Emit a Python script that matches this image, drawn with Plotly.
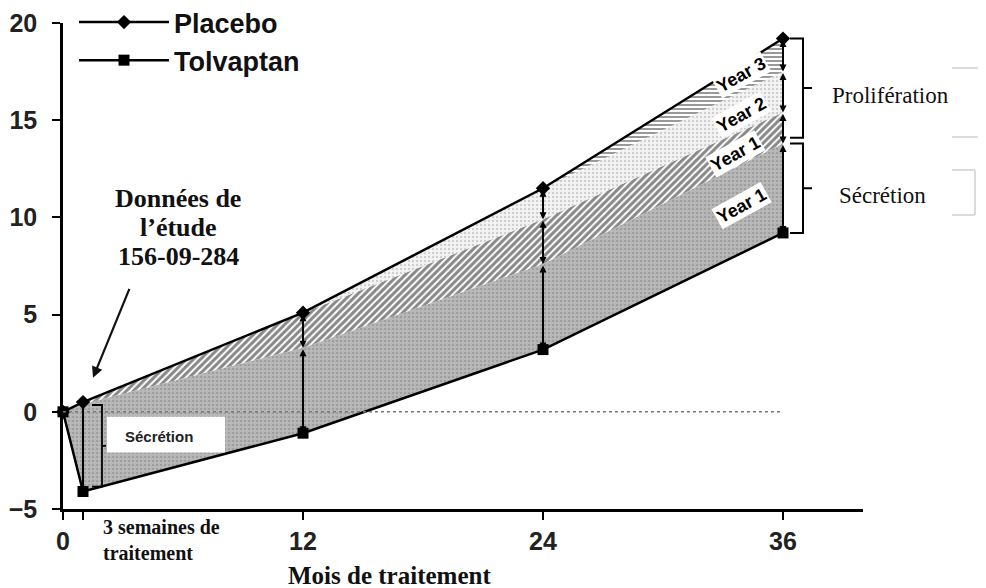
"""Placebo vs Tolvaptan: kidney volume change split into secretion / proliferation bands."""

import plotly.graph_objects as go

# Months of treatment (1 = the 3-week visit)
months = [0, 1, 12, 24, 36]
placebo = [0.0, 0.5, 5.1, 11.5, 19.2]
tolvaptan = [0.0, -4.1, -1.1, 3.2, 9.2]

# Upper edge of each shaded band (the bands stack from tolvaptan up to placebo)
secretion_top = [0.0, 0.4, 3.3, 7.6, 13.8]          # months 0..36
prolif_y1_months = [1, 12, 24, 36]
prolif_y1_top = [0.5, 5.1, 9.9, 15.4]
prolif_y2_months = [12, 24, 36]
prolif_y2_top = [5.1, 11.5, 17.5]
prolif_y3_months = [24, 36]

x_ticks = [0, 1, 12, 24, 36]
x_tick_labels = ["0", "", "12", "24", "36"]
y_ticks = [-5, 0, 5, 10, 15, 20]

band_labels = ["Year 3", "Year 2", "Year 1", "Year 1"]
band_label_pos = [(33.9, 17.3), (33.9, 15.25), (33.6, 13.25), (33.9, 10.6)]

study_lines = ["Données de", "l’étude", "156-09-284"]

SANS = "Liberation Sans, Arial, sans-serif"
SERIF = "Liberation Serif, Times New Roman, serif"

# The page body has an 8px margin, so the figure is shifted by 8px and
# everything below is given in page pixels.
PAGE_OFF = 8
FIG_W, FIG_H = 986 - PAGE_OFF, 588 - PAGE_OFF
L, R, T, B = 63, 863, 23, 509          # plot area on the page


def px(x, y):
    return (x - L) / (R - L), (B - y) / (B - T)


def band(xs, lower, upper):
    """Closed polygon between two curves."""
    return list(xs) + list(xs)[::-1], list(lower) + list(upper)[::-1]


def pick(xs, ys, wanted):
    lookup = dict(zip(xs, ys))
    return [lookup[m] for m in wanted]


fig = go.Figure()

# Secretion (dense grey)
bx, by = band(months, tolvaptan, secretion_top)
fig.add_trace(go.Scatter(
    x=bx, y=by, fill="toself", mode="none", showlegend=False, hoverinfo="skip",
    fillcolor="#b5b5b5",
    fillpattern=dict(shape=".", fgcolor="#858585", bgcolor="#b9b9b9", size=4, solidity=0.35),
))

# Proliferation year 1 (diagonal hatch)
bx, by = band(prolif_y1_months, pick(months, secretion_top, prolif_y1_months), prolif_y1_top)
fig.add_trace(go.Scatter(
    x=bx, y=by, fill="toself", mode="none", showlegend=False, hoverinfo="skip",
    fillcolor="white",
    fillpattern=dict(shape="/", fgcolor="#111111", bgcolor="white", size=5, solidity=0.6),
))

# Proliferation year 2 (light dots)
bx, by = band(prolif_y2_months, pick(prolif_y1_months, prolif_y1_top, prolif_y2_months), prolif_y2_top)
fig.add_trace(go.Scatter(
    x=bx, y=by, fill="toself", mode="none", showlegend=False, hoverinfo="skip",
    fillcolor="#eeeeee",
    fillpattern=dict(shape=".", fgcolor="#aaaaaa", bgcolor="#f4f4f4", size=4, solidity=0.3),
))

# Proliferation year 3 (horizontal hatch)
bx, by = band(prolif_y3_months, pick(prolif_y2_months, prolif_y2_top, prolif_y3_months),
              pick(months, placebo, prolif_y3_months))
fig.add_trace(go.Scatter(
    x=bx, y=by, fill="toself", mode="none", showlegend=False, hoverinfo="skip",
    fillcolor="white",
    fillpattern=dict(shape="-", fgcolor="#333333", bgcolor="white", size=4, solidity=0.5),
))

# Main series
fig.add_trace(go.Scatter(
    x=months, y=placebo, name="Placebo", mode="lines+markers", cliponaxis=False,
    line=dict(color="black", width=2.5),
    marker=dict(symbol="diamond", size=11, color="black"),
    legendgroup="p",
))
fig.add_trace(go.Scatter(
    x=months, y=tolvaptan, name="Tolvaptan", mode="lines+markers", cliponaxis=False,
    line=dict(color="black", width=2.5),
    marker=dict(symbol="square", size=11, color="black"),
    legendgroup="t",
))

shapes = []
annotations = []

# dotted zero line
shapes.append(dict(type="line", xref="x", yref="y", x0=months[0], x1=months[-1], y0=0, y1=0,
                   line=dict(color="#777777", width=1.5, dash="dot"), layer="above"))

# white box behind the early "Sécrétion" label
shapes.append(dict(type="rect", xref="x", yref="y", x0=2.2, x1=8.1, y0=-2.1, y1=-0.25,
                   fillcolor="white", line=dict(width=0), layer="above"))
annotations.append(dict(x=4.8, y=-1.25, xref="x", yref="y", text="<b>Sécrétion</b>",
                        showarrow=False, font=dict(family=SANS, size=15, color="#222")))

# vertical line at the 3-week visit and its small bracket
shapes.append(dict(type="line", xref="x", yref="y", x0=months[1], x1=months[1],
                   y0=tolvaptan[1], y1=placebo[1], line=dict(color="black", width=2)))
top3, bot3 = secretion_top[1] - 0.05, tolvaptan[1] + 0.25
mid3 = (top3 + bot3) / 2
shapes.append(dict(type="path", xref="x", yref="y",
                   path=f"M 1.45 {top3} L 1.95 {top3} L 1.95 {bot3} L 1.45 {bot3} "
                        f"M 1.95 {mid3} L 2.15 {mid3}",
                   line=dict(color="black", width=1.8)))

# double arrows between band edges at 12, 24, 36 months
edges = {
    12: [placebo[2], secretion_top[2], tolvaptan[2]],
    24: [placebo[3], prolif_y1_top[2], secretion_top[3], tolvaptan[3]],
    36: [placebo[4], prolif_y2_top[2], prolif_y1_top[3], secretion_top[4], tolvaptan[4]],
}
for m, ys in edges.items():
    for y_hi, y_lo in zip(ys[:-1], ys[1:]):
        annotations.append(dict(
            x=m, y=y_lo, ax=m, ay=y_hi, xref="x", yref="y", axref="x", ayref="y",
            text="", showarrow=True, arrowside="end+start", arrowhead=2,
            arrowsize=0.7, arrowwidth=2, arrowcolor="black",
        ))


# right-hand brackets
def bracket(y_top, y_bot):
    mid = (y_top + y_bot) / 2
    return dict(type="path", xref="x", yref="y",
                path=f"M 36.35 {y_top} L 37.0 {y_top} L 37.0 {y_bot} L 36.35 {y_bot} "
                     f"M 37.0 {mid} L 37.45 {mid}",
                line=dict(color="black", width=2))


shapes.append(bracket(placebo[-1], secretion_top[-1] + 0.3))
shapes.append(bracket(secretion_top[-1], tolvaptan[-1]))
ax_, ay_ = px(890, 95)
annotations.append(dict(x=ax_, y=ay_, xref="paper", yref="paper", xanchor="center", yanchor="middle",
                        text="Prolifération", showarrow=False,
                        font=dict(family=SERIF, size=23, color="#111")))
ax_, ay_ = px(883, 195)
annotations.append(dict(x=ax_, y=ay_, xref="paper", yref="paper", xanchor="center", yanchor="middle",
                        text="Sécrétion", showarrow=False,
                        font=dict(family=SERIF, size=23, color="#111")))

# faint leftover rules at the far right
for y0, y1, x0, x1 in [(68, 68, 952, 986), (137, 137, 952, 986),
                       (170, 170, 952, 975), (215, 215, 952, 975), (170, 215, 975, 975)]:
    p0 = px(x0, y0)
    p1 = px(x1, y1)
    shapes.append(dict(type="line", xref="paper", yref="paper",
                       x0=p0[0], x1=p1[0], y0=p0[1], y1=p1[1],
                       line=dict(color="#d0d0d0", width=1.5)))

# rotated year labels
for txt, (lx, ly) in zip(band_labels, band_label_pos):
    annotations.append(dict(x=lx, y=ly, xref="x", yref="y", text=f"<b>{txt}</b>",
                            showarrow=False, textangle=-29, bgcolor="white", borderpad=1,
                            font=dict(family=SANS, size=18, color="black")))

# study annotation with arrow
for line_txt, yy in zip(study_lines, (198, 227, 256)):
    ax_, ay_ = px(178, yy)
    annotations.append(dict(x=ax_, y=ay_, xref="paper", yref="paper", xanchor="center",
                            yanchor="middle", text=f"<b>{line_txt}</b>", showarrow=False,
                            font=dict(family=SERIF, size=26, color="#111")))
annotations.append(dict(x=1.5, y=1.75, ax=3.35, ay=6.4, xref="x", yref="y", axref="x", ayref="y",
                        text="", showarrow=True, arrowhead=2, arrowsize=1, arrowwidth=2.2,
                        arrowcolor="#111"))

# x-axis texts
ax_, ay_ = px(101, 514)
annotations.append(dict(x=ax_, y=ay_, xref="paper", yref="paper", xanchor="left", yanchor="top",
                        text="<b>3 semaines de<br>traitement</b>", showarrow=False, align="left",
                        font=dict(family=SERIF, size=20, color="#111")))
ax_, ay_ = px(389, 575)
annotations.append(dict(x=ax_, y=ay_, xref="paper", yref="paper", xanchor="center", yanchor="middle",
                        text="<b>Mois de traitement</b>", showarrow=False,
                        font=dict(family=SERIF, size=25, color="#111")))

fig.update_xaxes(
    range=[0, 40], tickvals=x_ticks, ticktext=x_tick_labels,
    showline=True, linecolor="black", linewidth=2.5, showgrid=False, zeroline=False,
    ticks="outside", ticklen=8, tickwidth=2, tickcolor="black",
    tickfont=dict(family=SANS, size=25, color="#222", weight="bold"),
)
fig.update_yaxes(
    range=[-5, 20], tickvals=y_ticks,
    showline=True, linecolor="black", linewidth=2.5, showgrid=False, zeroline=False,
    ticks="outside", ticklen=8, tickwidth=2, tickcolor="black", ticklabelstandoff=10,
    tickfont=dict(family=SANS, size=25, color="#222", weight="bold"),
)

lx, ly = px(74, -2)
fig.update_layout(
    width=FIG_W, height=FIG_H,
    margin=dict(l=L - PAGE_OFF, r=FIG_W - (R - PAGE_OFF), t=T - PAGE_OFF,
                b=FIG_H - (B - PAGE_OFF), autoexpand=False),
    plot_bgcolor="white", paper_bgcolor="white",
    shapes=shapes, annotations=annotations,
    showlegend=True,
    legend=dict(x=lx, y=ly, xanchor="left", yanchor="top", bgcolor="rgba(0,0,0,0)",
                font=dict(family=SANS, size=27, color="#111", weight="bold"),
                tracegroupgap=0, itemwidth=90),
)

fig.write_html("out.html")
